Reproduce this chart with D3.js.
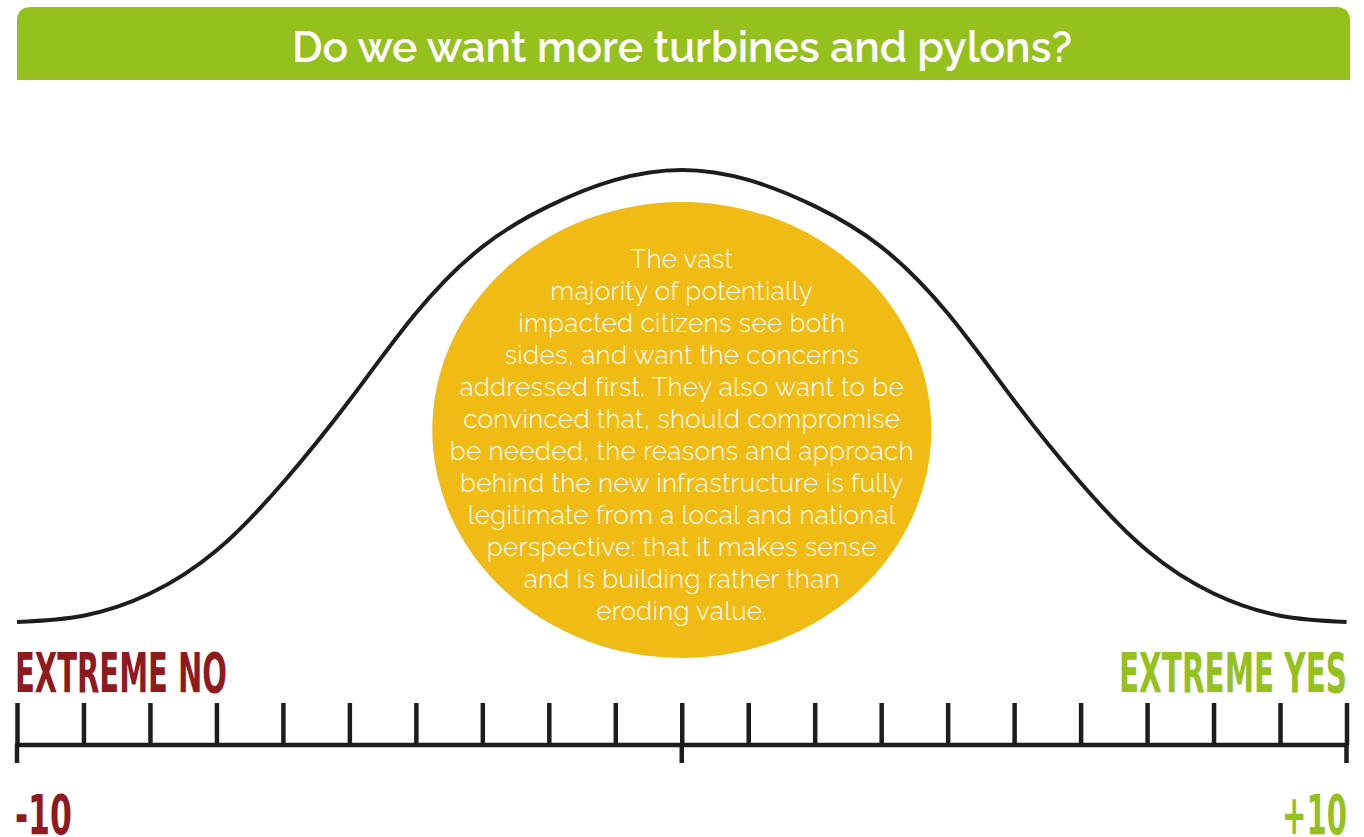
<!DOCTYPE html>
<html>
<head>
<meta charset="utf-8">
<script src="https://cdn.jsdelivr.net/npm/d3@7"></script>
<style>
  html, body { margin: 0; padding: 0; background: #ffffff; }
  svg { display: block; }
</style>
</head>
<body>
<svg id="chart" width="1364" height="837"></svg>
<script>
// ---- data ----
const titleText = "Do we want more turbines and pylons?";
const scalePositions = [-10,-9,-8,-7,-6,-5,-4,-3,-2,-1,0,1,2,3,4,5,6,7,8,9,10];
// relative height of the opinion distribution curve (peak = 100)
const curveValues = [0, 1.4, 6.3, 15.8, 30.8, 49, 68.3, 83, 92, 97.8, 100, 97.8, 92, 83, 68.3, 49, 30.8, 15.8, 6.3, 1.4, 0];
const majorTicks = [-10, 0, 10];
const leftLabel = "EXTREME NO";
const rightLabel = "EXTREME YES";
const leftTickLabel = "-10";
const rightTickLabel = "+10";
const noteLines = [
  "The vast",
  "majority of potentially",
  "impacted citizens see both",
  "sides, and want the concerns",
  "addressed first. They also want to be",
  "convinced that, should compromise",
  "be needed, the reasons and approach",
  "behind the new infrastructure is fully",
  "legitimate from a local and national",
  "perspective: that it makes sense",
  "and is building rather than",
  "eroding value."
];

// ---- styles ----
const GREEN = "#95c11f";
const RED = "#8e1a1f";
const INK = "#1d1d1b";
const YELLOW = "#efbb14";

const svg = d3.select("#chart");

// banner
const bx0 = 17, bx1 = 1350, by0 = 7, by1 = 80, br = 14;
svg.append("path")
  .attr("d", `M${bx0},${by1} V${by0 + br} Q${bx0},${by0} ${bx0 + br},${by0} H${bx1 - br} Q${bx1},${by0} ${bx1},${by0 + br} V${by1} Z`)
  .attr("fill", GREEN);

const title = svg.append("text")
  .attr("x", 682).attr("y", 62)
  .attr("text-anchor", "middle")
  .attr("fill", "#ffffff")
  .style("font-family", "Raleway, Lato, 'Open Sans', sans-serif")
  .style("font-weight", 600)
  .style("font-size", "40px")
  .text(titleText);
{
  const len = title.node().getComputedTextLength();
  const target = 780;
  title.style("font-size", (40 * target / len).toFixed(2) + "px");
}

// scales
const x = d3.scaleLinear().domain([-10, 10]).range([17, 1346.5]);
const y = d3.scaleLinear().domain([0, 100]).range([622, 170]);

// curve
const pts = scalePositions.map((p, i) => [p, curveValues[i]]);
svg.append("path")
  .datum(pts)
  .attr("fill", "none")
  .attr("stroke", INK)
  .attr("stroke-width", 4)
  .attr("d", d3.line().x(d => x(d[0])).y(d => y(d[1])).curve(d3.curveNatural));

// ellipse
svg.append("ellipse")
  .attr("cx", x(0)).attr("cy", 430)
  .attr("rx", 249.5).attr("ry", 228)
  .attr("fill", YELLOW);

// note text
const note = svg.append("text")
  .attr("text-anchor", "middle")
  .attr("fill", "#ffffff")
  .style("font-family", "Raleway, Lato, 'Open Sans', sans-serif")
  .style("font-weight", 300)
  .style("font-size", "26px")
  .style("letter-spacing", "0.35px");
note.selectAll("tspan")
  .data(noteLines)
  .join("tspan")
  .attr("x", x(0))
  .attr("y", (d, i) => 268 + i * 32)
  .text(d => d);

// axis
const axisY = 745;
const axis = d3.axisTop(x)
  .tickValues(scalePositions)
  .tickSize(42)
  .tickSizeOuter(0)
  .tickFormat("");
const ag = svg.append("g").attr("transform", `translate(0,${axisY})`).call(axis);
ag.select(".domain").attr("stroke", INK).attr("stroke-width", 4.5)
  .attr("d", `M${x(-10) - 2},0H${x(10) + 2}`);
ag.selectAll(".tick line").attr("stroke", INK).attr("stroke-width", 4.5);

svg.append("g").selectAll("line")
  .data(majorTicks)
  .join("line")
  .attr("x1", d => x(d)).attr("x2", d => x(d))
  .attr("y1", axisY).attr("y2", axisY + 18)
  .attr("stroke", INK).attr("stroke-width", 4.5);

// labels (condensed display face)
function condensed(txt, xPos, yPos, anchor, color, width) {
  return svg.append("text")
    .attr("x", xPos).attr("y", yPos)
    .attr("text-anchor", anchor)
    .attr("fill", color)
    .attr("textLength", width)
    .attr("lengthAdjust", "spacingAndGlyphs")
    .style("font-family", "'Liberation Sans Narrow', 'DejaVu Sans Condensed', 'Liberation Sans', sans-serif")
    .style("font-weight", 700)
    .style("font-size", "55px")
    .text(txt);
}
condensed(leftLabel, 15, 692, "start", RED, 212);
condensed(rightLabel, 1347, 692, "end", GREEN, 228);
condensed(leftTickLabel, 15, 834, "start", RED, 57);
condensed(rightTickLabel, 1347, 834, "end", GREEN, 65);
</script>
</body>
</html>
